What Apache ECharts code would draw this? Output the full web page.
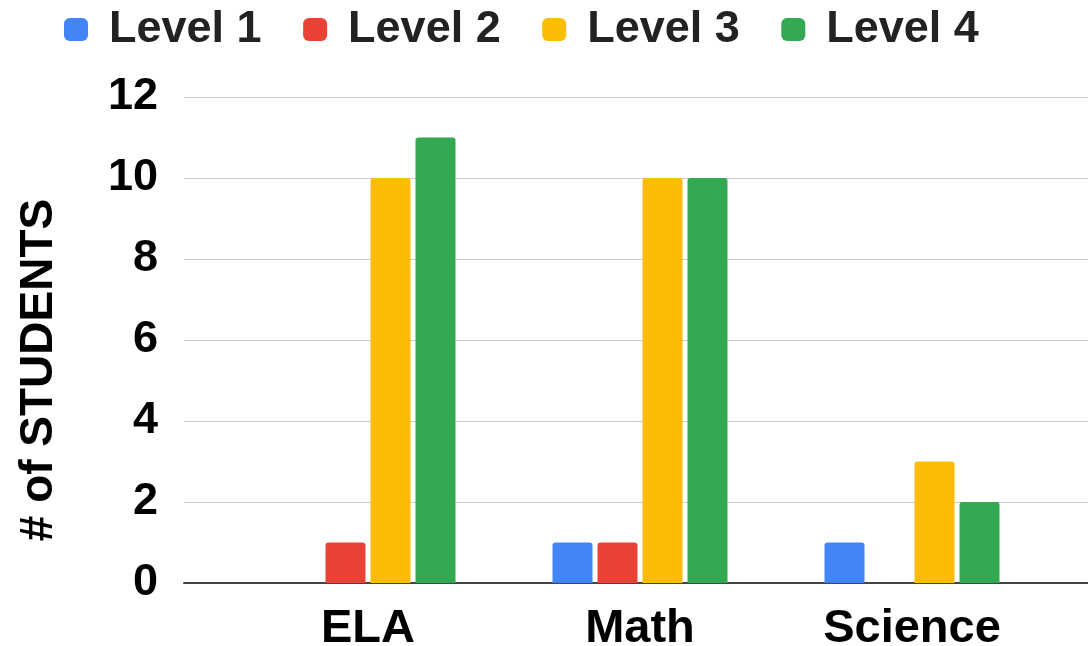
<!DOCTYPE html>
<html>
<head>
<meta charset="utf-8">
<script src="https://cdn.jsdelivr.net/npm/echarts@6/dist/echarts.min.js"></script>
<style>
html,body{margin:0;padding:0;background:#fff;}
#chart{width:1088px;height:646px;}
</style>
</head>
<body>
<div id="chart"></div>
<script>
var categories = ['ELA', 'Math', 'Science'];
var seriesNames = ['Level 1', 'Level 2', 'Level 3', 'Level 4'];
var level1 = [0, 1, 1];
var level2 = [1, 1, 0];
var level3 = [10, 10, 3];
var level4 = [11, 10, 2];
var seriesColors = ['#4285F4', '#EA4335', '#FBBC04', '#34A853'];
var yAxisTitle = '# of STUDENTS';
var yMin = 0, yMax = 12, yInterval = 2;

var values = [level1, level2, level3, level4];
var FONT = '"Liberation Sans", Arial, sans-serif';

var chart = echarts.init(document.getElementById('chart'), null, {renderer: 'canvas'});
var series = seriesNames.map(function (n, i) {
  return {
    name: n,
    type: 'bar',
    xAxisIndex: 1,
    yAxisIndex: 1,
    data: values[i],
    barWidth: 40,
    barGap: '12.5%',
    itemStyle: {color: seriesColors[i], borderRadius: [3, 3, 0, 0]},
    emphasis: {disabled: true},
    animation: false
  };
});

chart.setOption({
  animation: false,
  color: seriesColors,
  legend: {
    data: seriesNames,
    left: 64,
    top: 7,
    padding: 0,
    itemWidth: 24,
    itemHeight: 23,
    itemGap: 41.5,
    icon: 'roundRect',
    textStyle: {fontFamily: FONT, fontWeight: 'bold', fontSize: 45, color: '#222', padding: [0, 0, 0, 16]}
  },
  grid: [
    {left: 184, right: 0, top: 97, bottom: 63, containLabel: false, outerBoundsMode: 'none'},
    {left: 232, right: 40, top: 97, bottom: 63, containLabel: false, outerBoundsMode: 'none'}
  ],
  xAxis: [
    {
      type: 'value', gridIndex: 0, min: 0, max: 1,
      axisLine: {show: true, onZero: true, lineStyle: {color: '#444', width: 2}},
      axisTick: {show: false}, axisLabel: {show: false}, splitLine: {show: false}
    },
    {
      type: 'category', gridIndex: 1, data: categories,
      axisLine: {show: false}, axisTick: {show: false},
      axisLabel: {fontFamily: FONT, fontWeight: 'bold', fontSize: 47, color: '#000', margin: 23}
    }
  ],
  yAxis: [
    {
      type: 'value', gridIndex: 0, min: yMin, max: yMax, interval: yInterval,
      name: yAxisTitle, nameLocation: 'middle', nameGap: 122, nameRotate: 90,
      nameTextStyle: {fontFamily: FONT, fontWeight: 'bold', fontSize: 46, color: '#000', padding: [0, 60, 0, 0]},
      axisLine: {show: false}, axisTick: {show: false},
      axisLabel: {fontFamily: FONT, fontWeight: 'bold', fontSize: 45, color: '#000', margin: 26},
      splitLine: {show: true, lineStyle: {color: '#cccccc', width: 1}}
    },
    {
      type: 'value', gridIndex: 1, min: yMin, max: yMax, interval: yInterval,
      show: false, splitLine: {show: false}
    }
  ],
  series: series
});
</script>
</body>
</html>
